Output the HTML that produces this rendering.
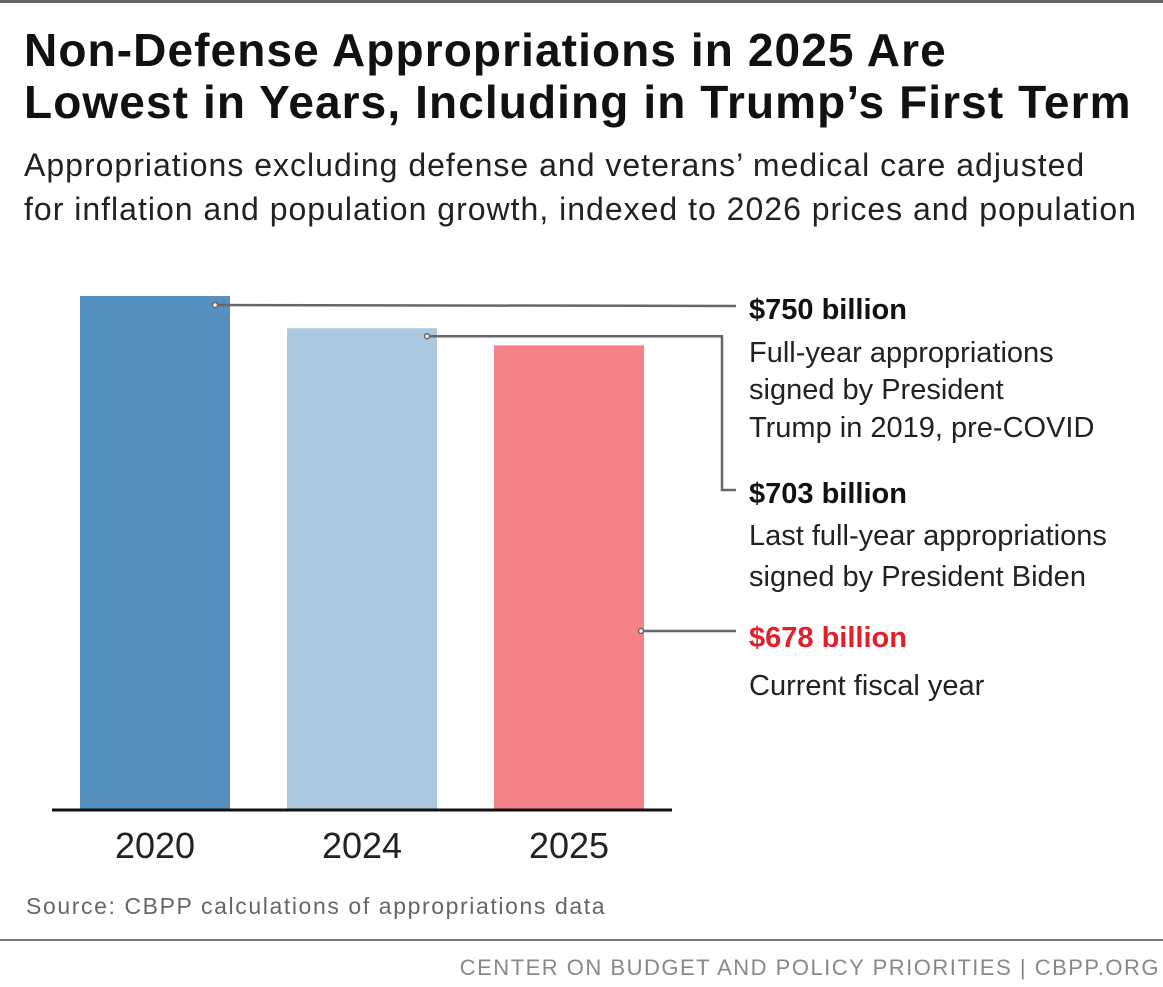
<!DOCTYPE html>
<html><head><meta charset="utf-8"><style>
body{margin:0;width:1163px;height:987px;background:#fff;font-family:"Liberation Sans",sans-serif;position:relative;overflow:hidden}
.t{position:absolute;white-space:nowrap}
</style></head><body>
<div style="position:absolute;left:0;top:0;width:1163px;height:3px;background:#666"></div>
<div class="t" style="left:24px;top:24px;font-size:46px;font-weight:bold;line-height:52px;color:#111;letter-spacing:1.1px">Non-Defense Appropriations in 2025 Are<br>Lowest in Years, Including in Trump’s First Term</div>
<div class="t" style="left:24px;top:143px;font-size:32px;line-height:44px;color:#222;letter-spacing:1px">Appropriations excluding defense and veterans’ medical care adjusted<br>for inflation and population growth, indexed to 2026 prices and population</div>
<svg id="chart" width="1163" height="987" style="position:absolute;left:0;top:0"></svg>
<div class="t" style="left:26px;top:893px;font-size:23px;color:#666;letter-spacing:1.6px">Source: CBPP calculations of appropriations data</div>
<div style="position:absolute;left:0;top:939px;width:1163px;height:2px;background:#777"></div>
<div class="t" style="right:3px;top:955px;font-size:22px;color:#888;letter-spacing:1.5px">CENTER ON BUDGET AND POLICY PRIORITIES | CBPP.ORG</div>
<script>
const categories=["2020","2024","2025"];
const values=[750,703,678];
const colors=["#5590be","#abc8df","#f48287"];
const labelTitles=["$750 billion","$703 billion","$678 billion"];
const NS="http://www.w3.org/2000/svg";
const svg=document.getElementById('chart');
const base=810, scale=514/750, x0=80, barW=150, step=207;
const y=v=>base-v*scale;
function mk(tag,attrs){const e=document.createElementNS(NS,tag);for(const k in attrs)e.setAttribute(k,attrs[k]);svg.appendChild(e);return e;}
const labelY=[308,492,636];
categories.forEach((c,i)=>{
  const bx=x0+i*step;
  const r=mk('rect',{x:bx,y:y(values[i]),width:barW,height:values[i]*scale,fill:colors[i]});
  
  
  const t=mk('text',{x:bx+barW/2,y:858,'text-anchor':'middle','font-size':36,fill:'#222','font-family':'Liberation Sans'});
  t.textContent=c;
  
  
  let sx,sy;
  if(i===0){sx=bx+barW-15;sy=y(values[i])+9;}
  else if(i===1){sx=bx+barW-10;sy=y(values[i])+8;}
  else{sx=bx+barW-3;sy=631;}
  let d;
  if(i===1) d=`M${sx},${sy} L722,${sy} L722,${labelY[i]-2} L736,${labelY[i]-2}`;
  else d=`M${sx},${sy} L736,${i===0?labelY[i]-2:sy}`;
  const p=mk('path',{d:d,stroke:'#666','stroke-width':2.5,fill:'none'});
  
  
  const dot=mk('circle',{cx:sx,cy:sy,r:2.5,fill:'#fff',stroke:'#666','stroke-width':1.5});
  
  
  const lt=mk('text',{x:749,y:labelY[i]+11,'font-size':29,'font-weight':'bold',fill:i===2?'#e3202a':'#111','font-family':'Liberation Sans'});
  lt.textContent=labelTitles[i];
  
  
});
const ax=mk('line',{x1:52,x2:672,y1:810,y2:810,stroke:'#111','stroke-width':3});


const descs=[[352,"Full-year appropriations"],[389,"signed by President"],[427,"Trump in 2019, pre-COVID"],[535,"Last full-year appropriations"],[576,"signed by President Biden"],[685,"Current fiscal year"]];
descs.forEach(dd=>{
  const t=mk('text',{x:749,y:dd[0]+10,'font-size':29,fill:'#222','font-family':'Liberation Sans'});
  t.textContent=dd[1];
  
  
});
</script>
</body></html>
